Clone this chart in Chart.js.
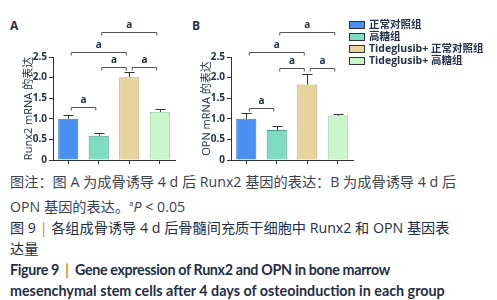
<!DOCTYPE html>
<html>
<head>
<meta charset="utf-8">
<script src="https://cdn.jsdelivr.net/npm/chart.js@4/dist/chart.umd.min.js"></script>
<style>
  body { margin: 0; background: #fff; width: 497px; height: 300px; overflow: hidden; position: relative; font-family: "Noto Sans", "Noto Sans CJK SC", sans-serif; }
  canvas { position: absolute; top: 0; }
  .panel { position: absolute; top: 17px; font: bold 12px "Open Sans", sans-serif; color: #23324a; }
  #legend { position: absolute; left: 349px; top: 18px; font: bold 10.5px "Open Sans", "Noto Sans CJK SC", sans-serif; color: #23324a; }
  #legend div { height: 12px; line-height: 12px; white-space: nowrap; }
  #legend span.sw { display: inline-block; width: 14px; height: 6px; border: 1.5px solid #333; margin-right: 4px; vertical-align: -1px; }
  #caption { position: absolute; left: 10px; top: 171px; font-size: 14.2px; line-height: 21px; white-space: nowrap; color: #3a4252; font-family: "Open Sans", "Noto Sans CJK SC", sans-serif; }
  #caption .dark { color: #1f2d45; }
  #caption .bar { color: #e07a1f; }
  #caption .en { font-family: "Lato", "Open Sans", sans-serif; font-weight: bold; color: #1f2d45; font-size: 14.3px; }
  #caption .tight { letter-spacing: -0.35px; }
</style>
</head>
<body>
<div class="panel" style="left:10px">A</div>
<div class="panel" style="left:192px">B</div>
<canvas id="chartA" width="190" height="168" style="left:0"></canvas>
<canvas id="chartB" width="190" height="168" style="left:178px"></canvas>
<div id="legend"></div>
<div id="caption">
  图注：图 A 为成骨诱导 4 d 后 Runx2 基因的表达：B 为成骨诱导 4 d 后<br>
  OPN 基因的表达。<sup style="font-size:8px">a</sup><i>P</i> &lt; 0.05<br>
  <span class="dark">图 9 <span class="bar">|</span> 各组成骨诱导 4 d 后骨髓间充质干细胞中 Runx2 和 OPN 基因表<br>
  达量</span><br>
  <span class="en"><span class="tight">Figure 9 &nbsp;<span class="bar">|</span>&nbsp; Gene expression of Runx2 and OPN in bone marrow</span><br>
  mesenchymal stem cells after 4 days of osteoinduction in each group</span>
</div>
<script>
const groups = ['正常对照组', '高糖组', 'Tideglusib+ 正常对照组', 'Tideglusib+ 高糖组'];
const fillColors = ['#4a8ff2', '#7edcc0', '#e8d39c', '#c9f7c9'];
const edgeColors = ['#3a78d0', '#4c9c86', '#b8a778', '#8fc49a'];

const runx2Mean = [1.0, 0.59, 2.01, 1.17];
const runx2Err = [0.1, 0.06, 0.13, 0.07];
const opnMean = [1.0, 0.73, 1.83, 1.08];
const opnErr = [0.14, 0.1, 0.25, 0.04];

// [from, to, height in axis units]
const runx2Brackets = [[1, 3, 3.1], [0, 2, 2.62], [1, 2, 2.26], [2, 3, 2.26], [0, 1, 1.29]];
const opnBrackets = [[1, 3, 3.11], [0, 2, 2.62], [1, 2, 2.23], [2, 3, 2.23], [0, 1, 1.27]];

const yTicks = [0, 0.5, 1.0, 1.5, 2.0, 2.5];
const textColor = '#23324a';

const legend = document.getElementById('legend');
groups.forEach((g, i) => {
  const row = document.createElement('div');
  row.innerHTML = `<span class="sw" style="background:${fillColors[i]}"></span>${g}`;
  legend.appendChild(row);
});

const extrasPlugin = {
  id: 'extras',
  afterDatasetsDraw(chart, args, opts) {
    const { ctx, scales: { x, y } } = chart;
    ctx.save();
    // error bars (upper only)
    ctx.strokeStyle = '#333';
    ctx.lineWidth = 1;
    opts.mean.forEach((m, i) => {
      const cx = Math.round(x.getPixelForValue(i)) + 0.5;
      const top = Math.round(y.getPixelForValue(m + opts.err[i])) + 0.5;
      const base = y.getPixelForValue(m);
      ctx.beginPath();
      ctx.moveTo(cx, base);
      ctx.lineTo(cx, top);
      ctx.moveTo(cx - 5, top);
      ctx.lineTo(cx + 5, top);
      ctx.stroke();
    });
    // significance brackets
    ctx.strokeStyle = '#555';
    ctx.fillStyle = textColor;
    ctx.font = 'bold 10px "Open Sans", sans-serif';
    ctx.textAlign = 'center';
    ctx.textBaseline = 'bottom';
    opts.brackets.forEach(([a, b, h]) => {
      const x1 = x.getPixelForValue(a) + 3;
      const x2 = x.getPixelForValue(b) - 3;
      const yy = Math.round(y.getPixelForValue(h)) + 0.5;
      ctx.beginPath();
      ctx.moveTo(x1, yy + 3);
      ctx.lineTo(x1, yy);
      ctx.lineTo(x2, yy);
      ctx.lineTo(x2, yy + 3);
      ctx.stroke();
      ctx.fillText('a', (x1 + x2) / 2, yy - 2);
    });
    ctx.restore();
  }
};

function makeChart(id, mean, err, brackets, title) {
  return new Chart(document.getElementById(id), {
    type: 'bar',
    data: {
      labels: groups,
      datasets: [{
        data: mean,
        backgroundColor: fillColors,
        borderColor: edgeColors,
        borderWidth: 1,
        barPercentage: 0.66,
        categoryPercentage: 1
      }]
    },
    options: {
      responsive: false,
      animation: false,
      devicePixelRatio: 1,
      layout: { padding: { top: 57, left: 22, right: 15, bottom: 0 } },
      plugins: {
        legend: { display: false },
        tooltip: { enabled: false },
        extras: { mean, err, brackets }
      },
      scales: {
        x: {
          ticks: { display: false },
          grid: { drawOnChartArea: false, drawTicks: true, tickLength: 4, color: '#333', offset: false },
          border: { color: '#333', width: 1 },
          afterFit: s => { s.height = 8; }
        },
        y: {
          min: 0,
          max: 2.5,
          afterBuildTicks: s => { s.ticks = yTicks.map(v => ({ value: v })); },
          ticks: {
            padding: 2,
            color: textColor,
            font: { size: 10, weight: 'bold', family: '"Open Sans", sans-serif' },
            callback: v => (v === 0 ? '0' : v.toFixed(1))
          },
          grid: { drawOnChartArea: false, tickLength: 4, color: '#333' },
          border: { color: '#333', width: 1 },
          title: {
            display: true,
            text: title,
            color: textColor,
            padding: 0,
            font: { size: 11, family: '"Open Sans", "Noto Sans CJK SC", sans-serif' }
          },
          afterFit: s => { s.width = 31; }
        }
      }
    },
    plugins: [extrasPlugin]
  });
}

makeChart('chartA', runx2Mean, runx2Err, runx2Brackets, 'Runx2 mRNA 的表达');
makeChart('chartB', opnMean, opnErr, opnBrackets, 'OPN mRNA 的表达');
</script>
</body>
</html>
